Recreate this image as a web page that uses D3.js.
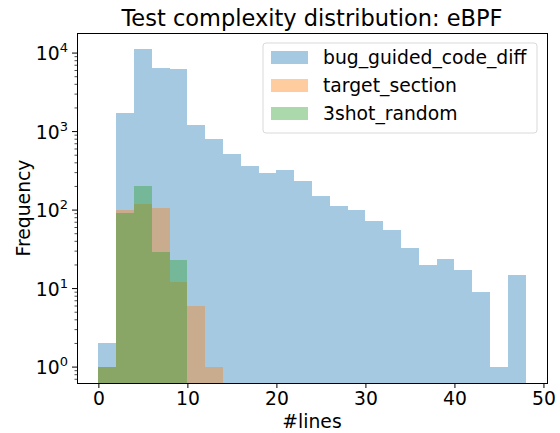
<!DOCTYPE html>
<html>
<head>
<meta charset="utf-8">
<style>
  body{ margin:0; background:#fff; }
  svg text{ font-family: "DejaVu Sans", sans-serif; fill:#000; }
</style>
<script src="https://d3js.org/d3.v7.min.js"></script>
</head>
<body>
<svg id="vis"></svg>
<script>
  var width = 560,
    height = 433,
    margin = {left: 77, right: 13, top: 33, bottom: 50},
    fs = 18.75;

  // data: bins of width 2, starting at 0
  var binWidth = 2;
  var seriesNames = ["bug_guided_code_diff", "target_section", "3shot_random"];
  var colors = ["#1f77b4", "#ff7f0e", "#2ca02c"];
  var bugGuided = [2, 1700, 11300, 6500, 6200, 1230, 800, 520, 360, 300, 320, 235,
                   150, 112, 100, 72, 56, 33, 20, 24, 17, 9, 1, 15];
  var targetSection = [1, 100, 120, 107, 12, 6, 1];
  var shotRandom = [1, 93, 200, 29, 23];
  var xTicks = [0, 10, 20, 30, 40, 50];
  var yTicks = [0, 1, 2, 3, 4];

  var series = [bugGuided, targetSection, shotRandom];

  var svg = d3.select("#vis")
    .attr("width", width)
    .attr("height", height);

  // scales, padded like matplotlib (5% margins)
  var xMax = bugGuided.length * binWidth;
  var xPad = 0.05 * xMax;
  var xscale = d3.scaleLinear()
    .domain([-xPad, xMax + xPad])
    .range([margin.left, width - margin.right]);

  var logMax = Math.log10(d3.max(bugGuided)), logMin = 0;
  var logPad = 0.05 * (logMax - logMin);
  var yscale = d3.scaleLog()
    .domain([Math.pow(10, logMin - logPad), Math.pow(10, logMax + logPad)])
    .range([height - margin.bottom, margin.top]);

  var y0 = yscale.range()[0];

  // bars -------------------------------------------------
  series.forEach(function(vals, s) {
    svg.append("g")
      .selectAll("rect")
      .data(vals)
      .enter().append("rect")
      .attr("x", (d, i) => xscale(i * binWidth))
      .attr("width", (d, i) => xscale((i + 1) * binWidth) - xscale(i * binWidth))
      .attr("y", d => yscale(d))
      .attr("height", d => y0 - yscale(d))
      .style("fill", colors[s])
      .style("fill-opacity", 0.4)
      .attr("shape-rendering", "crispEdges");
  });

  // axes -------------------------------------------------
  var xAxis = svg.append("g")
    .attr("transform", "translate(0," + y0 + ")")
    .call(d3.axisBottom(xscale).tickValues(xTicks).tickSize(5).tickPadding(4).tickFormat(d3.format("d")));
  xAxis.select(".domain").remove();
  xAxis.selectAll("text").style("font-size", fs + "px").style("font-family", "DejaVu Sans");

  var yAxis = svg.append("g")
    .attr("transform", "translate(" + margin.left + ",0)");

  // minor ticks
  var minor = [];
  for (var k = -1; k <= 4; k++) {
    for (var m = 2; m <= 9; m++) {
      var v = m * Math.pow(10, k);
      if (v >= yscale.domain()[0] && v <= yscale.domain()[1]) minor.push(v);
    }
  }
  yAxis.selectAll(".minor")
    .data(minor)
    .enter().append("line")
    .attr("x1", 0).attr("x2", -2.5)
    .attr("y1", d => yscale(d)).attr("y2", d => yscale(d))
    .style("stroke", "#000").style("stroke-width", 0.7);

  yAxis.selectAll(".major")
    .data(yTicks)
    .enter().append("line")
    .attr("x1", 0).attr("x2", -5)
    .attr("y1", d => yscale(Math.pow(10, d))).attr("y2", d => yscale(Math.pow(10, d)))
    .style("stroke", "#000").style("stroke-width", 1);

  var lab = yAxis.selectAll(".ylab")
    .data(yTicks)
    .enter().append("text")
    .attr("x", -9)
    .attr("y", d => yscale(Math.pow(10, d)) + 7)
    .attr("text-anchor", "end")
    .style("font-size", fs + "px");
  lab.append("tspan").text("10");
  lab.append("tspan")
    .attr("dy", -8)
    .style("font-size", "13px")
    .text(d => d);

  // frame
  svg.append("rect")
    .attr("x", margin.left)
    .attr("y", margin.top)
    .attr("width", width - margin.right - margin.left)
    .attr("height", y0 - margin.top)
    .style("fill", "none")
    .style("stroke", "#000")
    .style("stroke-width", 1)
    .attr("shape-rendering", "crispEdges");

  // titles -------------------------------------------------
  svg.append("text")
    .attr("x", (margin.left + width - margin.right) / 2)
    .attr("y", 26)
    .attr("text-anchor", "middle")
    .style("font-size", "22.5px")
    .text("Test complexity distribution: eBPF");

  svg.append("text")
    .attr("x", (margin.left + width - margin.right) / 2)
    .attr("y", 428)
    .attr("text-anchor", "middle")
    .style("font-size", fs + "px")
    .text("#lines");

  svg.append("text")
    .attr("transform", "translate(30," + ((margin.top + y0) / 2) + ") rotate(-90)")
    .attr("text-anchor", "middle")
    .style("font-size", fs + "px")
    .text("Frequency");

  // legend -------------------------------------------------
  var legend = svg.append("g").attr("transform", "translate(263,43)");
  legend.append("rect")
    .attr("width", 274).attr("height", 90)
    .attr("rx", 3)
    .style("fill", "#fff").style("fill-opacity", 0.8)
    .style("stroke", "#d9d9d9").style("stroke-width", 1);

  var item = legend.selectAll(".item")
    .data(seriesNames)
    .enter().append("g")
    .attr("transform", (d, i) => "translate(0," + (14.5 + i * 28) + ")");
  item.append("rect")
    .attr("x", 8).attr("y", -6.5)
    .attr("width", 37).attr("height", 13)
    .style("fill", (d, i) => colors[i])
    .style("fill-opacity", 0.4);
  item.append("text")
    .attr("x", 60).attr("y", 6.5)
    .style("font-size", fs + "px")
    .text(d => d);
</script>
</body>
</html>
